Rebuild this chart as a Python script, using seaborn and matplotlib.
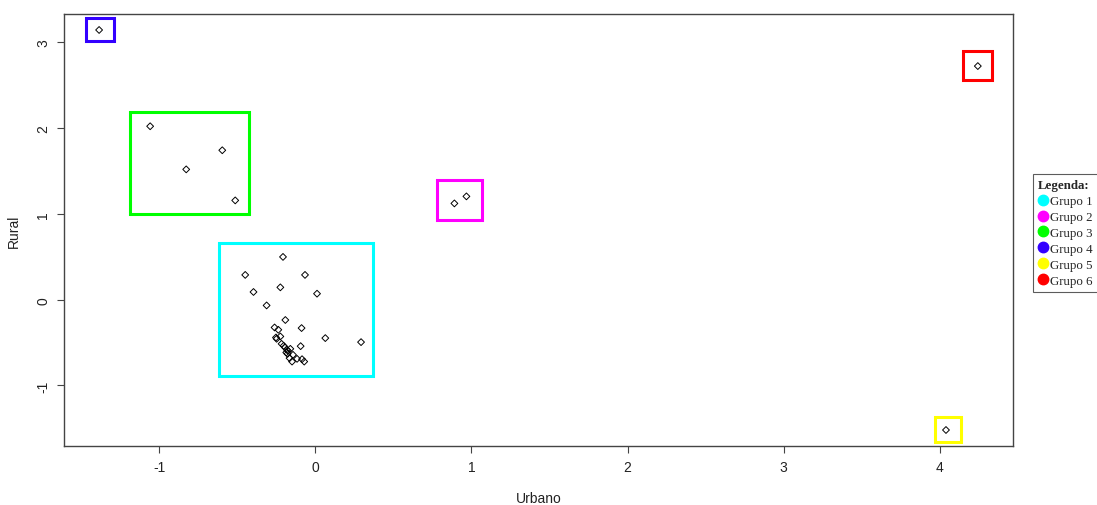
import matplotlib
matplotlib.use("Agg")
import matplotlib.pyplot as plt
from matplotlib.patches import Rectangle
from matplotlib.lines import Line2D
import seaborn as sns
import pandas as pd

# points, by group
g1_x = [-0.207, -0.449, -0.066, -0.396, -0.224, 0.011, -0.312, -0.192, -0.261, -0.237,
        -0.088, 0.064, 0.293, -0.252, -0.224, -0.248, -0.216, -0.203, -0.094, -0.181,
        -0.175, -0.186, -0.160, -0.143, -0.165, -0.149, -0.117, -0.085, -0.071, -0.194, -0.178]
g1_y = [0.499, 0.289, 0.289, 0.090, 0.144, 0.070, -0.067, -0.237, -0.324, -0.351,
        -0.331, -0.448, -0.495, -0.441, -0.429, -0.456, -0.515, -0.538, -0.542, -0.585,
        -0.596, -0.616, -0.573, -0.643, -0.682, -0.722, -0.690, -0.694, -0.722, -0.558, -0.632]
g2_x = [0.891, 0.968]
g2_y = [1.123, 1.205]
g3_x = [-1.058, -0.827, -0.596, -0.513]
g3_y = [2.023, 1.520, 1.743, 1.158]
g4_x = [-1.385]
g4_y = [3.146]
g5_x = [4.040]
g5_y = [-1.520]
g6_x = [4.244]
g6_y = [2.725]

groups = ["Grupo 1", "Grupo 2", "Grupo 3", "Grupo 4", "Grupo 5", "Grupo 6"]
colors = ["#00FFFF", "#FF00FF", "#00FF00", "#3300FF", "#FFFF00", "#FF0000"]

# rectangles drawn around each group (x0, x1, y0, y1)
box_x0 = [-0.615, 0.782, -1.186, -1.468, 3.968, 4.147]
box_x1 = [0.372, 1.071, -0.423, -1.288, 4.135, 4.333]
box_y0 = [-0.889, 0.924, 0.994, 3.018, -1.661, 2.561]
box_y1 = [0.667, 1.392, 2.187, 3.287, -1.368, 2.901]

xs = [g1_x, g2_x, g3_x, g4_x, g5_x, g6_x]
ys = [g1_y, g2_y, g3_y, g4_y, g5_y, g6_y]
df = pd.DataFrame({
    "Urbano": [v for grp in xs for v in grp],
    "Rural": [v for grp in ys for v in grp],
    "Grupo": [g for g, grp in zip(groups, xs) for _ in grp],
})

sns.set_style("white")
plt.rcParams["font.family"] = ["Liberation Sans Narrow", "Liberation Sans", "DejaVu Sans"]
plt.rcParams["axes.unicode_minus"] = False

fig = plt.figure(figsize=(10.97, 5.06), dpi=100)
ax = fig.add_axes([0.0583, 0.1166, 0.8651, 0.8538])

sns.scatterplot(data=df, x="Urbano", y="Rural", marker="D", s=12,
                facecolor="none", edgecolor="black", linewidth=0.7, ax=ax)

for c, x0, x1, y0, y1 in zip(colors, box_x0, box_x1, box_y0, box_y1):
    ax.add_patch(Rectangle((x0, y0), x1 - x0, y1 - y0, fill=False,
                           edgecolor=c, linewidth=2.2))

# R style 4% padding
xmin, xmax = df["Urbano"].min(), df["Urbano"].max()
ymin, ymax = df["Rural"].min(), df["Rural"].max()
ax.set_xlim(xmin - 0.04 * (xmax - xmin), xmax + 0.04 * (xmax - xmin))
ax.set_ylim(ymin - 0.04 * (ymax - ymin), ymax + 0.04 * (ymax - ymin))

ax.set_xticks([-1, 0, 1, 2, 3, 4])
ax.set_yticks([-1, 0, 1, 2, 3])
ax.tick_params(axis="both", which="both", direction="out", length=5, width=0.8,
               color="#444444", labelsize=10, labelcolor="#222222",
               bottom=True, left=True, pad=5)
plt.setp(ax.get_yticklabels(), rotation=90, va="center")
for s in ax.spines.values():
    s.set_color("#444444")
    s.set_linewidth(1.0)
ax.set_xlabel("Urbano", fontsize=10, labelpad=12, color="#222222")
ax.set_ylabel("Rural", fontsize=10, labelpad=11, color="#222222")

handles = [Line2D([], [], marker="o", linestyle="none", markersize=7.5,
                  markerfacecolor=c, markeredgecolor=c) for c in colors]
leg = fig.legend(handles, groups, loc="upper left", bbox_to_anchor=(0.9416, 0.654),
                 title="Legenda:", frameon=True, fancybox=False, edgecolor="#333333",
                 prop={"family": "Liberation Serif", "size": 9.3},
                 handletextpad=0.15, handlelength=0.8, labelspacing=0.3,
                 borderpad=0.4, borderaxespad=0)
leg.get_title().set_fontfamily("Liberation Serif")
leg.get_title().set_fontweight("bold")
leg.get_title().set_fontsize(9.3)
leg._legend_box.align = "left"
leg.get_frame().set_linewidth(0.8)

fig.savefig("out.png", dpi=100)
